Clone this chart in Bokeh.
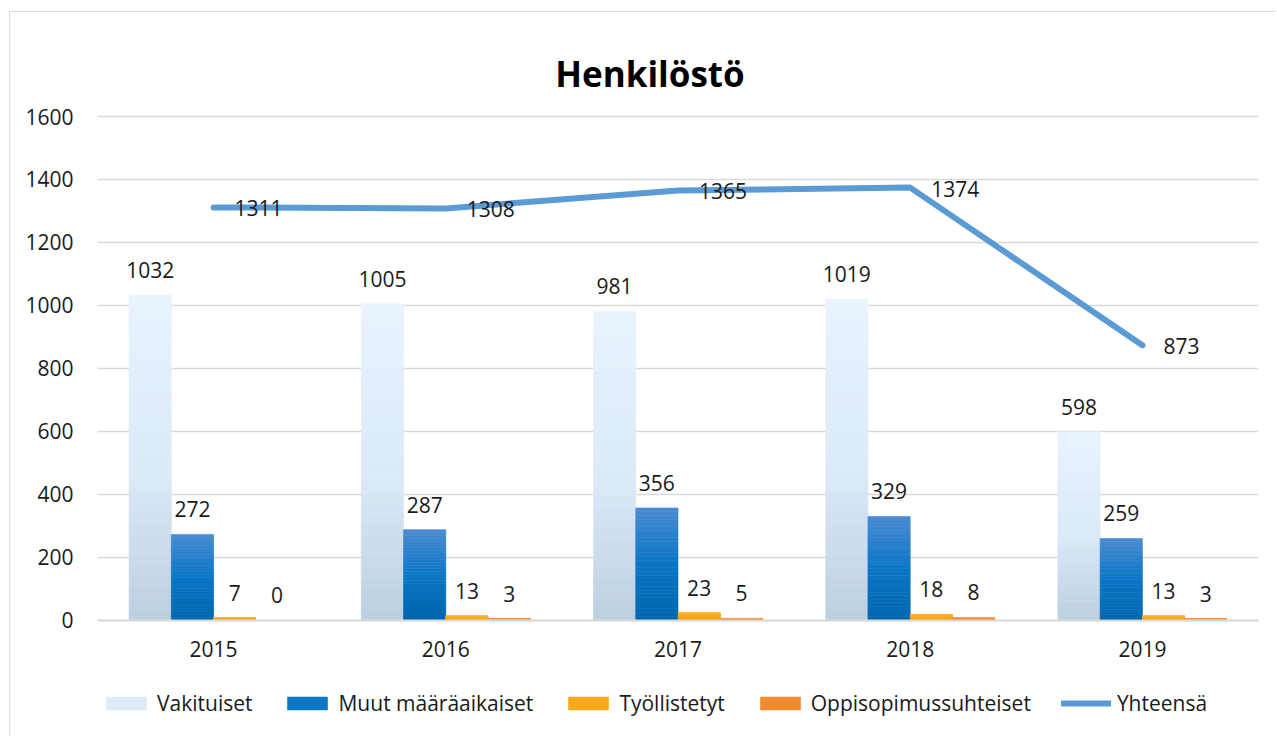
from bokeh.plotting import figure
from bokeh.models import (ColumnDataSource, Legend, LegendItem, FactorRange, Range1d,
                          FixedTicker, Label)
from bokeh.transform import dodge
from bokeh.embed import file_html
from bokeh.resources import INLINE
from bokeh.core.properties import value

# ---- data ----
years = ["2015", "2016", "2017", "2018", "2019"]
vakituiset = [1032, 1005, 981, 1019, 598]
muut = [272, 287, 356, 329, 259]
tyollistetyt = [7, 13, 23, 18, 13]
oppisopimus = [0, 3, 5, 8, 3]
yhteensa = [1311, 1308, 1365, 1374, 873]
series_names = ["Vakituiset", "Muut määräaikaiset", "Työllistetyt", "Oppisopimussuhteiset"]
line_name = "Yhteensä"
title_text = "Henkilöstö"
y_ticks = [0, 200, 400, 600, 800, 1000, 1200, 1400, 1600]

# ---- styles ----
FONT = "Open Sans"
FS = "21px"
TXT = "#1a1a1a"
GRID = "#d9d9d9"
gradients = [
    [(0.0, "#e8f3fe"), (0.55, "#dbe9f8"), (1.0, "#bccfe0")],
    [(0.0, "#4a8bd0"), (0.5, "#0a76c6"), (1.0, "#0065ad")],
    [(0.0, "#fdb22e"), (1.0, "#f5a200")],
    [(0.0, "#f59c52"), (1.0, "#ec770a")],
]
line_color = "#5b9bd5"
offsets = [-0.273, -0.091, 0.091, 0.273]
bar_w = 0.182
N = 30
PX_PER_UNIT = 503.5 / 1600
Y_BOTTOM = -117.5 / PX_PER_UNIT        # room below zero for axis labels and legend
Y_TOP = 1600 + 104 / PX_PER_UNIT       # room above 1600 for the title


def hex2rgb(h):
    h = h.lstrip("#")
    return tuple(int(h[i:i + 2], 16) for i in (0, 2, 4))


def grad_color(stops, f):
    for (f0, c0), (f1, c1) in zip(stops[:-1], stops[1:]):
        if f <= f1:
            t = 0 if f1 == f0 else (f - f0) / (f1 - f0)
            a, b = hex2rgb(c0), hex2rgb(c1)
            return "#%02x%02x%02x" % tuple(round(a[k] + (b[k] - a[k]) * t) for k in range(3))
    return stops[-1][1]


p = figure(x_range=FactorRange(*years), y_range=Range1d(Y_BOTTOM, Y_TOP),
           width=1266, height=725, output_backend="svg", toolbar_location=None,
           min_border_left=87, min_border_right=18, min_border_top=0, min_border_bottom=0,
           background_fill_color="white", border_fill_color="white")
p.outline_line_color = None
p.styles = {"margin-left": "9px", "margin-top": "11px",
            "border-top": "1.5px solid #d9d9d9", "border-left": "1.5px solid #d9d9d9"}

series = [vakituiset, muut, tyollistetyt, oppisopimus]
bar_renderers = []
for vals, stops, off in zip(series, gradients, offsets):
    xs, bots, tops, cols = [], [], [], []
    for yr, v in zip(years, vals):
        if v <= 0:
            continue
        for i in range(N):
            xs.append(yr)
            bots.append(v * i / N)
            tops.append(v * (i + 1) / N)
            cols.append(grad_color(stops, 1 - (i + 0.5) / N))
    src = ColumnDataSource(dict(year=xs, bottom=bots, top=tops, color=cols))
    r = p.vbar(x=dodge("year", off, range=p.x_range), bottom="bottom", top="top", width=bar_w,
               source=src, fill_color="color", line_color="color", line_width=0.6)
    bar_renderers.append(r)
    lsrc = ColumnDataSource(dict(year=years, v=vals, lbl=[str(v) for v in vals]))
    p.text(x=dodge("year", off, range=p.x_range), y="v", text="lbl", source=lsrc,
           text_align="center", text_baseline="alphabetic", y_offset=-25,
           text_font=value(FONT), text_font_size=FS, text_color=TXT)

tsrc = ColumnDataSource(dict(year=years, v=yhteensa, lbl=[str(v) for v in yhteensa]))
line_r = p.line(x="year", y="v", source=tsrc, line_color=line_color, line_width=6,
                line_cap="round", line_join="round")
p.text(x="year", y="v", text="lbl", source=tsrc, text_align="left", text_baseline="middle",
       x_offset=21, y_offset=1, text_font=value(FONT), text_font_size=FS, text_color=TXT)

# legend (inside the extended frame, below the axis labels)
items = [LegendItem(label=name, renderers=[r], index=N // 2)
         for name, r in zip(series_names, bar_renderers)]
items.append(LegendItem(label=line_name, renderers=[line_r]))
legend = Legend(items=items, orientation="horizontal", location=(4, 20),
                glyph_width=50, glyph_height=16, label_standoff=6, spacing=30,
                padding=0, margin=0, border_line_color=None, background_fill_alpha=0,
                label_text_font=FONT, label_text_font_size=FS, label_text_color=TXT)
p.add_layout(legend, "center")

# title as a label in canvas units
p.add_layout(Label(x=638.5, y=59.5, x_units="canvas", y_units="canvas", text=title_text,
                   text_align="center", text_baseline="alphabetic",
                   text_font=FONT, text_font_size="35px", text_font_style="bold",
                   text_color="black"))

# axes
p.yaxis.ticker = FixedTicker(ticks=y_ticks)
p.yaxis.axis_line_color = None
p.yaxis.major_tick_line_color = None
p.yaxis.minor_tick_line_color = None
p.yaxis.major_label_standoff = 18
p.xaxis.fixed_location = 0
p.xaxis.major_tick_line_color = None
p.xaxis.minor_tick_line_color = None
p.xaxis.axis_line_color = GRID
p.xaxis.axis_line_width = 2
p.xaxis.major_label_standoff = 15
for ax in (p.xaxis, p.yaxis):
    ax.major_label_text_font = FONT
    ax.major_label_text_font_size = FS
    ax.major_label_text_color = TXT
p.xgrid.grid_line_color = None
p.ygrid.grid_line_color = GRID
p.ygrid.grid_line_width = 1.5

open("out.html", "w").write(file_html(p, INLINE))
